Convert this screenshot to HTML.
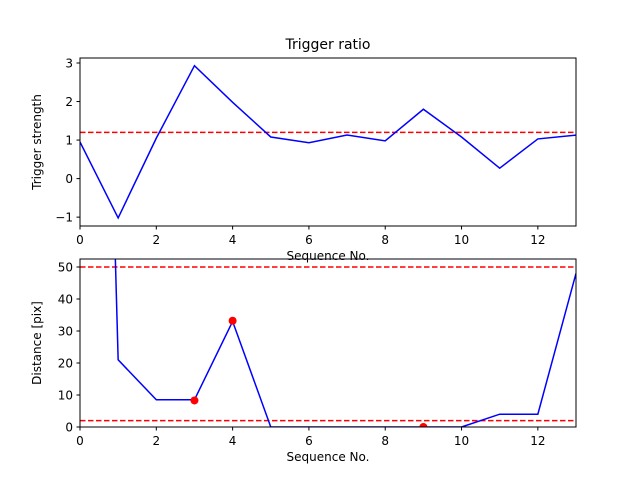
<!DOCTYPE html>
<html><head><meta charset="utf-8"><style>
body{margin:0;background:#fff}
svg text{font-family:"DejaVu Sans","Liberation Sans",sans-serif;font-size:12px;fill:#000}
</style></head><body>
<svg id="c" width="640" height="480"></svg>
<script>
const seq=[0,1,2,3,4,5,6,7,8,9,10,11,12,13];
const trig=[0.95,-1.02,1.05,2.93,1.98,1.08,0.93,1.13,0.98,1.8,1.08,0.27,1.03,1.13];
const trigThresh=[1.2];
const dist=[450,21,8.5,8.5,33,0,0,0,0,0,0,4,4,48];
const distThresh=[50,2];
const markX=[3,4,9];
const markY=[8.3,33.2,0];
const xTicks=[0,2,4,6,8,10,12];
const yTicksTop=[-1,0,1,2,3];
const yTicksBot=[0,10,20,30,40,50];
const svg=document.getElementById('c');
const NS='http://www.w3.org/2000/svg';
function mk(t,a,p){const e=document.createElementNS(NS,t);for(const k in a)e.setAttribute(k,a[k]);(p||svg).appendChild(e);return e;}
const X0=80,X1=576;
const sx=v=>X0+(v-0)/13*(X1-X0);
function panel(top,bot,ymin,ymax,data,thr,yt,ylab,name,title){
  const sy=v=>bot-(v-ymin)/(ymax-ymin)*(bot-top);
  const g=mk('g',{});
  const cp='cp'+name;const d=mk('clipPath',{id:cp},g);mk('rect',{x:X0,y:top,width:X1-X0,height:bot-top},d);
  const pg=mk('g',{'clip-path':'url(#'+cp+')'},g);
  thr.forEach(t=>{const l=mk('line',{x1:X0,x2:X1,y1:sy(t),y2:sy(t),stroke:'#f00','stroke-width':1.5,'stroke-dasharray':'5.5,2.5'},pg);});
  const pl=mk('polyline',{points:seq.map((s,i)=>sx(s)+','+sy(data[i])).join(' '),fill:'none',stroke:'#00f','stroke-width':1.5},pg);
  
  mk('rect',{x:X0,y:top,width:X1-X0,height:bot-top,fill:'none',stroke:'#000','stroke-width':1},g);
  xTicks.forEach(t=>{mk('line',{x1:sx(t),x2:sx(t),y1:bot,y2:bot+3.5,stroke:'#000'},g);const tx=mk('text',{x:sx(t),y:bot+18,'text-anchor':'middle'},g);tx.textContent=t;});
  yt.forEach(t=>{mk('line',{x1:X0-3.5,x2:X0,y1:sy(t),y2:sy(t),stroke:'#000'},g);const tx=mk('text',{x:X0-7,y:sy(t)+4.5,'text-anchor':'end'},g);tx.textContent=t<0?'\u22121':t;});
  const xl=mk('text',{x:(X0+X1)/2,y:bot+34,'text-anchor':'middle'},g);xl.textContent='Sequence No.';
  const yl=mk('text',{x:0,y:0,'text-anchor':'middle',transform:'translate(41,'+((top+bot)/2)+') rotate(-90)'},g);yl.textContent=ylab;
  if(title){const t=mk('text',{x:(X0+X1)/2,y:top-9,'text-anchor':'middle'},g);t.style.fontSize='14px';t.textContent=title;}
  return {sy,pg};
}
panel(58,226,-1.23,3.13,trig,trigThresh,yTicksTop,'Trigger strength','top-panel','Trigger ratio');
const b=panel(259,427,0,52.5,dist,distThresh,yTicksBot,'Distance [pix]','bottom-panel',null);
markX.forEach((m,i)=>{const c=mk('circle',{cx:sx(m),cy:b.sy(markY[i]),r:4,fill:'#f00'},b.pg);});
</script>
</body></html>
